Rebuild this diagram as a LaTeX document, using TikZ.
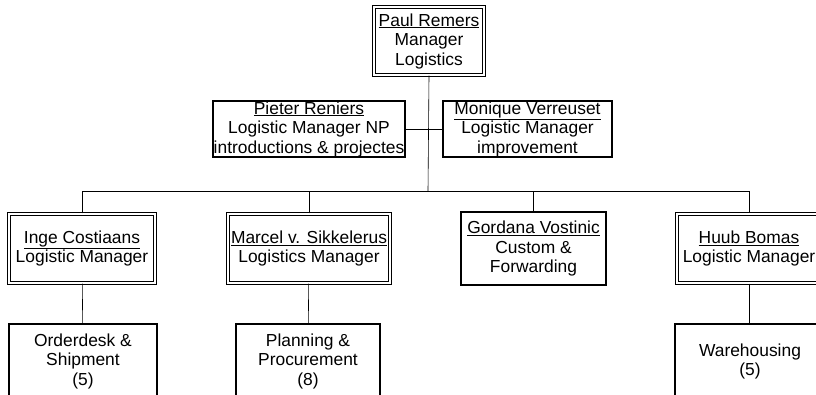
\documentclass[tikz,border=0pt]{standalone}
\usepackage{fontspec}
\setmainfont{Liberation Sans}
\usetikzlibrary{positioning}

\begin{document}
\begin{tikzpicture}[x=1pt,y=-1pt,
  person/.style={draw,line width=1.3pt,align=center,inner sep=0pt,
    font=\fontsize{17.4}{19.5}\selectfont},
  chief/.style={person,line width=1.2pt,double,double distance=2pt},
  unit/.style={person},
  conn/.style={line width=0.6pt}]
  \useasboundingbox (0,0) rectangle (816,394);
  \clip (0,0) rectangle (816,394);
  % top
  \node[chief,minimum width=110pt,minimum height=68pt] (paul) at (429,41)
    {\underline{Paul Remers}\\Manager\\Logistics};
  \node[person,minimum width=192pt,minimum height=56pt] (pieter) at (309,129)
    {\underline{Pieter Reniers}\\Logistic Manager NP\\introductions \& projectes};
  \node[person,minimum width=169pt,minimum height=56pt] (monique) at (527.5,129)
    {\underline{Monique Verreuset}\\Logistic Manager\\improvement};
  % managers
  \node[chief,minimum width=146pt,minimum height=69pt] (inge) at (82,248.5)
    {\underline{Inge Costiaans}\\Logistic Manager};
  \node[chief,minimum width=162pt,minimum height=69pt] (marcel) at (309,248.5)
    {\underline{Marcel v. Sikkelerus}\\Logistics Manager};
  \node[person,minimum width=145pt,minimum height=73pt] (gordana) at (533.5,248.5)
    {\underline{Gordana Vostinic}\\Custom \&\\Forwarding};
  \node[chief,minimum width=144pt,minimum height=69pt] (huub) at (749,248.5)
    {\underline{Huub Bomas}\\Logistic Manager};
  % units
  \node[unit,minimum width=148pt,minimum height=74pt] (order) at (83,361)
    {Orderdesk \&\\Shipment\\(5)};
  \node[unit,minimum width=144pt,minimum height=74pt] (plan) at (308,361)
    {Planning \&\\Procurement\\(8)};
  \node[unit,minimum width=150pt,minimum height=75pt] (ware) at (750,361.5)
    {Warehousing\\(5)};
  \coordinate (bus) at (428,191);
  \draw[conn] (paul.south) -- (bus) (pieter) edge (monique);
  \draw[conn] (inge.north) -- (inge.north |- bus) -- (huub.north |- bus) -- (huub.north);
  \draw[conn] (marcel.north) -- (marcel.north |- bus) (gordana.north) -- (gordana.north |- bus);
  \draw[conn] (inge) edge (order) (marcel) edge (plan) (huub.south) edge (huub.south |- ware.north);
\end{tikzpicture}
\end{document}
